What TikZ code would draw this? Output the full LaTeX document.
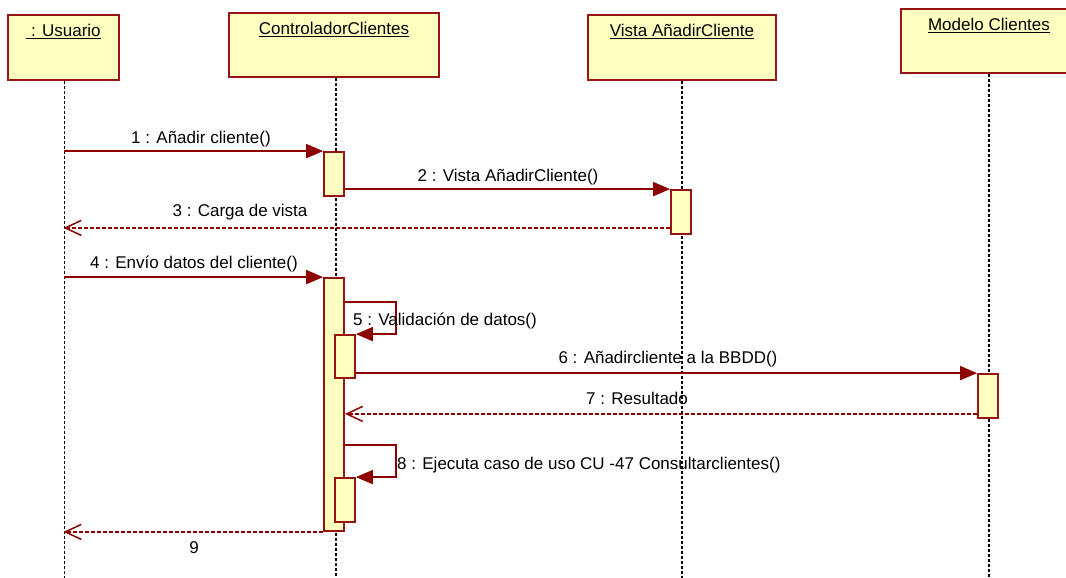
\documentclass[tikz,border=0pt]{standalone}
\usepackage{fontspec}
\setmainfont{Liberation Sans}
\usepackage{tikz}
\usetikzlibrary{arrows.meta, positioning, calc}
\definecolor{umlred}{RGB}{140,0,0}
\definecolor{boxred}{RGB}{150,20,20}
\definecolor{umlyellow}{RGB}{255,255,192}

\begin{document}
\begin{tikzpicture}[
  x=1pt, y=-1pt,
  txt/.style={font=\fontsize{17}{20}\selectfont, inner sep=1pt},
  head/.style={draw=boxred, fill=umlyellow, line width=2pt, inner sep=0pt},
  hlbl/.style={anchor=north, yshift=-7pt, font=\fontsize{17}{20}\selectfont},
  act/.style={draw=boxred, fill=umlyellow, line width=1.8pt, minimum width=20, inner sep=0pt},
  life/.style={black, line width=1.6pt, dash pattern=on 3pt off 2pt},
  msg/.style={-{Triangle[length=17pt, width=14pt]}, umlred, line width=1.8pt},
  ret/.style={-{Straight Barb[length=16pt, width=15pt]}, umlred, line width=1.5pt, dash pattern=on 4pt off 2pt}
]
\useasboundingbox (0,0) rectangle (1066,578);
\coordinate (end) at (0,578);

% Lifeline heads
\node[head, minimum width=111, minimum height=65,
      label={[hlbl]north:\underline{\ : Usuario}}] (usu) at (63.5,47.5) {};
\node[head, minimum width=210, minimum height=64,
      label={[hlbl]north:\underline{ControladorClientes}}] (ctrl) at (334,45) {};
\node[head, minimum width=188, minimum height=65,
      label={[hlbl]north:\underline{Vista AñadirCliente}}] (vista) at (682,47.5) {};
\node[head, minimum width=176, minimum height=64,
      label={[hlbl]north:\underline{Modelo Clientes}}] (modelo) at (989,41) {};

% Lifelines
\draw[life] ([xshift=1pt]usu.south) -- ([xshift=1pt]usu.south |- end);
\draw[life] ([xshift=2pt]ctrl.south) -- ([xshift=2pt]ctrl.south |- end);
\draw[life] (vista.south) -- (vista.south |- end);
\draw[life] (modelo.south) -- (modelo.south |- end);

% Activations
\node[act, minimum height=44] (act1) at (334,174) {};
\node[act, minimum height=44] (vact) at (681,212) {};
\node[act, minimum height=253] (act2) at (334,404.5) {};
\node[act, minimum height=43] (act5) at (345,356.5) {};
\node[act, minimum height=44] (mact) at (988,396) {};
\node[act, minimum height=44] (act8) at (345,500) {};

% Messages
\draw[msg] (usu.south |- act1.north) -- (act1.north west);
\node[txt] (m1) at (201,139) {1 : Añadir cliente()};
\draw[msg] (act1.east |- vact.north) -- (vact.north west);
\node[txt] (m2) at (508,177) {2 : Vista AñadirCliente()};
\draw[ret] ([yshift=7pt]vact.south west) -- ([yshift=7pt]vact.south west -| usu.south);
\node[txt] (m3) at (240,212) {3 : Carga de vista};
\draw[msg] (usu.south |- act2.north) -- (act2.north west);
\node[txt] (m4) at (194,264) {4 : Envío datos del cliente()};
\draw[msg] ([yshift=32pt]act5.north -| act2.east) -- ++(51,0) |- (act5.north east);
\node[txt, anchor=west] (m5) at (352,321) {5 : Validación de datos()};
\draw[msg] (act5.east |- mact.north) -- (mact.north west);
\node[txt] (m6) at (668,359) {6 : Añadircliente a la BBDD()};
\draw[ret] ([yshift=5pt]mact.south west) -- ([yshift=5pt]mact.south west -| act2.east);
\node[txt] (m7) at (637,398) {7 : Resultado};
\draw[msg] ([yshift=32pt]act8.north -| act2.east) -- ++(51,0) |- (act8.north east);
\node[txt, anchor=west] (m8) at (396,465) {8 : Ejecuta caso de uso CU -47 Consultarclientes()};
\draw[ret] (act2.south west) -- (act2.south west -| usu.south);
\node[txt] (m9) at (194,548) {9};

\end{tikzpicture}
\end{document}
